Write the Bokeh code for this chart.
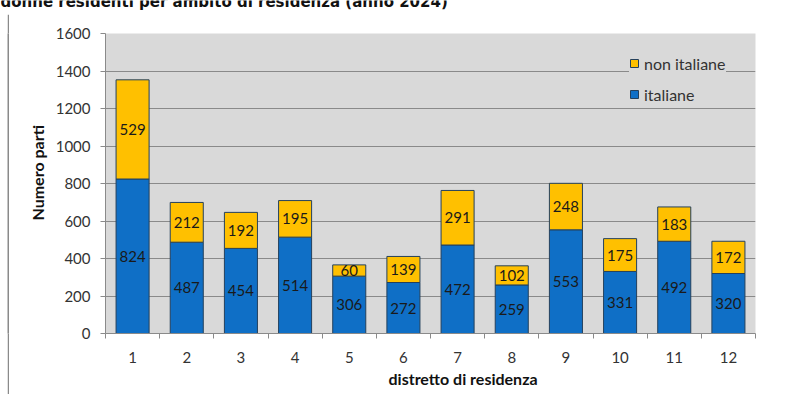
from bokeh.plotting import figure
from bokeh.layouts import row
from bokeh.models import (ColumnDataSource, FixedTicker, Label, Legend, LegendItem,
                          Range1d, Title, Spacer)
from bokeh.core.properties import value
from bokeh.embed import file_html
from bokeh.resources import INLINE

districts = ["1", "2", "3", "4", "5", "6", "7", "8", "9", "10", "11", "12"]
italiane = [824, 487, 454, 514, 306, 272, 472, 259, 553, 331, 492, 320]
non_italiane = [529, 212, 192, 195, 60, 139, 291, 102, 248, 175, 183, 172]
y_ticks = [0, 200, 400, 600, 800, 1000, 1200, 1400, 1600]

FONT = "Lato"
BLUE = "#0F6FC6"
YELLOW = "#FFC000"
EDGE = "#24405c"
FRAME_GRAY = "#8a8a8a"


def blank(width, height, fill="white", border="white", left=0):
    f = figure(width=width, height=height, output_backend="svg", toolbar_location=None,
               x_axis_location=None, y_axis_location=None,
               x_range=Range1d(0, 1), y_range=Range1d(0, 1),
               min_border_left=left, min_border_right=0, min_border_top=0,
               min_border_bottom=0)
    f.grid.visible = False
    f.outline_line_color = None
    f.background_fill_color = fill
    f.border_fill_color = border
    return f


# title strip (cropped at the top like the reference)
title_fig = blank(798, 12)
title_fig.add_layout(Label(x=0, y=11, x_units="screen", y_units="screen",
                           text="donne residenti per ambito di residenza (anno 2024)",
                           text_align="left", text_baseline="alphabetic",
                           text_font="DejaVu Sans", text_font_size="15px",
                           text_font_style="bold", text_color="#111111"))

# top border line of the chart area
top_line = blank(798, 2, fill=FRAME_GRAY, border="white", left=7)

# left border line of the chart area
left_line = blank(2, 380, fill=FRAME_GRAY, border=FRAME_GRAY)

x = list(range(1, len(districts) + 1))
top_all = [a + b for a, b in zip(italiane, non_italiane)]
src = ColumnDataSource(dict(
    x=x, top_it=italiane, top_all=top_all,
    mid_it=[a / 2 for a in italiane],
    mid_nit=[a + b / 2 for a, b in zip(italiane, non_italiane)],
    lab_it=[str(v) for v in italiane], lab_nit=[str(v) for v in non_italiane],
))

p = figure(width=789, height=380, output_backend="svg", toolbar_location=None,
           x_range=Range1d(0.5, 12.5), y_range=Range1d(0, 1600),
           min_border_left=96, min_border_right=43, min_border_top=19,
           min_border_bottom=61)
p.background_fill_color = "#d9d9d9"
p.border_fill_color = "white"
p.outline_line_color = None

r_it = p.vbar(x="x", bottom=0, top="top_it", width=0.61, source=src,
              fill_color=BLUE, line_color=EDGE, line_width=1)
r_nit = p.vbar(x="x", bottom="top_it", top="top_all", width=0.61, source=src,
               fill_color=YELLOW, line_color=EDGE, line_width=1)

for ycol, tcol in (("mid_it", "lab_it"), ("mid_nit", "lab_nit")):
    p.text(x="x", y=ycol, text=tcol, source=src, text_align="center",
           text_baseline="middle", text_font=value(FONT), text_font_size="15px",
           text_color="#1a1a1a")

# axes
p.xaxis.ticker = FixedTicker(ticks=x, minor_ticks=[i + 0.5 for i in range(0, 13)])
p.xaxis.major_label_overrides = {i: d for i, d in zip(x, districts)}
p.xaxis.major_tick_out = 0
p.xaxis.major_tick_in = 0
p.xaxis.minor_tick_out = 5
p.xaxis.minor_tick_in = 0
p.xaxis.minor_tick_line_color = FRAME_GRAY
p.xaxis.axis_line_color = FRAME_GRAY
p.xaxis.major_label_standoff = 13

p.yaxis.ticker = FixedTicker(ticks=y_ticks)
p.yaxis.minor_tick_line_color = None
p.yaxis.major_tick_out = 5
p.yaxis.major_tick_in = 0
p.yaxis.major_tick_line_color = FRAME_GRAY
p.yaxis.axis_line_color = FRAME_GRAY
p.yaxis.major_label_standoff = 10

for ax in (p.xaxis, p.yaxis):
    ax.major_label_text_font = FONT
    ax.major_label_text_font_size = "15px"
    ax.major_label_text_color = "#333333"

p.xgrid.grid_line_color = None
p.ygrid.ticker = FixedTicker(ticks=y_ticks)
p.ygrid.grid_line_color = FRAME_GRAY
p.ygrid.grid_line_width = 1

# axis titles (placed as side-panel titles to match the off-centre positions)
p.add_layout(Title(text="distretto di residenza", align="left", offset=283,
                   standoff=2, text_font=FONT, text_font_size="16px",
                   text_font_style="bold", text_color="#111111"), "below")
p.add_layout(Title(text="Numero parti", align="left", offset=113,
                   standoff=12, text_font=FONT, text_font_size="16px",
                   text_font_style="bold", text_color="#111111"), "left")

legend = Legend(items=[LegendItem(label="non italiane", renderers=[r_nit]),
                       LegendItem(label="italiane", renderers=[r_it])],
                location=(524, 229), background_fill_color="#d9d9d9",
                background_fill_alpha=1, border_line_color=None,
                label_text_font=FONT, label_text_font_size="16px",
                label_text_color="#333333", glyph_width=10, glyph_height=10,
                label_standoff=5, spacing=11, padding=12, label_height=20)
p.add_layout(legend)

main = row(Spacer(width=7, height=380), left_line, p)
open("out.html", "w").write(file_html([title_fig, top_line, main], INLINE))
